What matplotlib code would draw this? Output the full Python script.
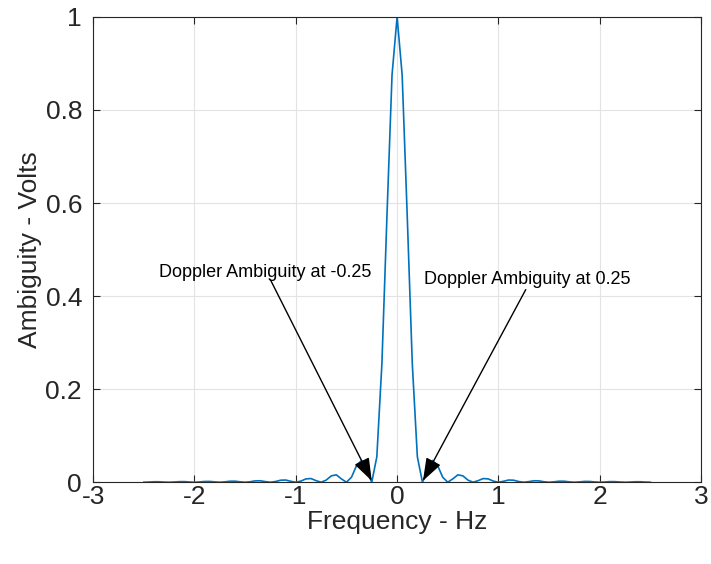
import numpy as np
import matplotlib
matplotlib.use("Agg")
import matplotlib.pyplot as plt

plt.rcParams['font.family'] = ['Liberation Sans', 'DejaVu Sans']

# Doppler cut of the ambiguity function, sampled every 0.05 Hz from -2.5 to 2.5
freq = np.linspace(-2.5, 2.5, 101)
amp = [
    0.0000, 0.0004, 0.0010, 0.0010, 0.0004, 0.0000, 0.0005, 0.0012, 0.0013, 0.0005,
    0.0000, 0.0006, 0.0016, 0.0017, 0.0007, 0.0000, 0.0008, 0.0021, 0.0022, 0.0009,
    0.0000, 0.0010, 0.0029, 0.0031, 0.0013, 0.0000, 0.0015, 0.0043, 0.0047, 0.0020,
    0.0000, 0.0024, 0.0071, 0.0079, 0.0034, 0.0000, 0.0045, 0.0136, 0.0159, 0.0072,
    0.0000, 0.0108, 0.0358, 0.0468, 0.0243, 0.0000, 0.0547, 0.2546, 0.5728, 0.8752,
    1.0000,
    0.8752, 0.5728, 0.2546, 0.0547, 0.0000, 0.0243, 0.0468, 0.0358, 0.0108, 0.0000,
    0.0072, 0.0159, 0.0136, 0.0045, 0.0000, 0.0034, 0.0079, 0.0071, 0.0024, 0.0000,
    0.0020, 0.0047, 0.0043, 0.0015, 0.0000, 0.0013, 0.0031, 0.0029, 0.0010, 0.0000,
    0.0009, 0.0022, 0.0021, 0.0008, 0.0000, 0.0007, 0.0017, 0.0016, 0.0006, 0.0000,
    0.0005, 0.0013, 0.0012, 0.0005, 0.0000, 0.0004, 0.0010, 0.0010, 0.0004, 0.0000,
]

xticks = [-3, -2, -1, 0, 1, 2, 3]
yticks = [0, 0.2, 0.4, 0.6, 0.8, 1]
ytick_labels = ['0', '0.2', '0.4', '0.6', '0.8', '1']

# annotations: text, text position, arrow tail, arrow tip
notes = [
    ("Doppler Ambiguity at -0.25", (-2.35, 0.450), (-1.25, 0.435), (-0.25, 0.003)),
    ("Doppler Ambiguity at 0.25", (0.27, 0.435), (1.27, 0.414), (0.255, 0.003)),
]

fig = plt.figure(figsize=(7.11, 5.64), dpi=100)
ax = fig.add_axes([0.131, 0.145, 0.855, 0.825])

ax.plot(freq, amp, color='#0072BD', lw=1.2)

ax.set_xlim(-3, 3)
ax.set_ylim(0, 1)
ax.set_xticks(xticks)
ax.set_xticklabels([str(t) for t in xticks])
ax.set_yticks(yticks)
ax.set_yticklabels(ytick_labels)

ax.grid(True, color='#e3e3e3', lw=0.8)
ax.set_axisbelow(True)
for s in ax.spines.values():
    s.set_color('#262626')
    s.set_linewidth(0.8)
ax.tick_params(direction='in', length=5, width=0.8, colors='#262626',
               labelsize=19, top=True, right=True)
ax.tick_params(axis='x', pad=2)
ax.tick_params(axis='y', pad=8)

ax.set_xlabel('Frequency - Hz', fontsize=19, color='#262626', labelpad=1)
ax.set_ylabel('Ambiguity - Volts', fontsize=19, color='#262626', labelpad=2.5)

for txt, tpos, tail, tip in notes:
    ax.text(tpos[0], tpos[1], txt, fontsize=13, ha='left', va='center')
    ax.annotate('', xy=tip, xytext=tail,
                arrowprops=dict(arrowstyle='-|>,head_length=1.4,head_width=0.5',
                                color='black', lw=1.0, shrinkA=0, shrinkB=0))

fig.savefig('out.png', dpi=100)
